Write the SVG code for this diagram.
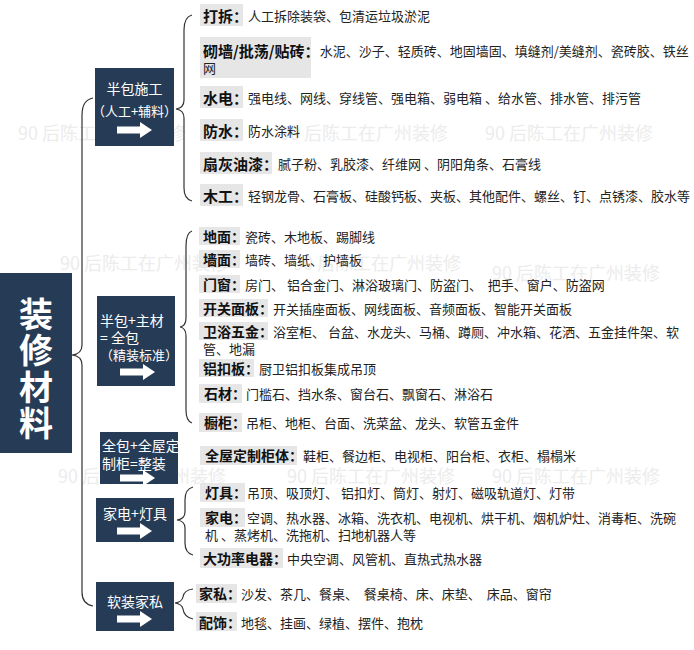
<svg xmlns="http://www.w3.org/2000/svg" width="694" height="650" viewBox="0 0 694 650">
<style>
text{font-family:"Noto Sans CJK SC","Noto Sans",sans-serif;dominant-baseline:central;white-space:pre}
.wm{font-size:18px;fill:#ececec}
.box{fill:#263b55}
.bt{font-size:14px;fill:#fff}
.bs{font-size:13px;fill:#fff}
.main{font-size:34px;font-weight:bold;fill:#fff;text-anchor:middle}
.bg{fill:#e6e6e6}
.l1{font-size:15px;font-weight:bold;fill:#111}
.l2{font-size:14px;font-weight:bold;fill:#111}
.ct{font-size:13px;fill:#222;font-weight:normal}
.br{fill:none;stroke:#333;stroke-width:1.2}
.arw{fill:#fff}
</style>
<defs>
<path id="arrow" class="arw" d="M0,-3.5 H23 V-8 L35,0 L23,8 V3.5 H0 Z"/>
</defs>
<g id="watermarks">
<text class="wm" x="18" y="132">90 后陈工在广州装修</text>
<text class="wm" x="280" y="132">90 后陈工在广州装修</text>
<text class="wm" x="485" y="132">90 后陈工在广州装修</text>
<text class="wm" x="60" y="262">90 后陈工在广州装修</text>
<text class="wm" x="293" y="262">90 后陈工在广州装修</text>
<text class="wm" x="492" y="272">90 后陈工在广州装修</text>
<text class="wm" x="58" y="475">90 后陈工在广州装修</text>
<text class="wm" x="287" y="475">90 后陈工在广州装修</text>
<text class="wm" x="492" y="475">90 后陈工在广州装修</text>
</g>
<g id="connectors">
<path class="br" d="M93,98 Q82,100 82,115 L82,345 Q82,354 72,355 Q82,356 82,365 L82,592 Q82,604 93,606"/>
<path class="br" d="M192,15 Q184,17 184,30 L184,100 Q184,108 176,109 Q184,110 184,118 L184,188 Q184,199 192,201"/>
<path class="br" d="M192,231 Q186,233 186,246 L186,318 Q186,326 180,327 Q186,328 186,336 L186,410 Q186,421 192,423"/>
<path class="br" d="M193,487 Q185,489 185,500 L185,512 Q185,519 177,520 Q185,521 185,528 L185,543 Q185,553 193,555"/>
<path class="br" d="M193,589 Q184,590 183,597 Q182,602 175,603 Q182,604 183,609 Q184,617 193,619"/>
</g>
<g id="root">
<rect class="box" x="0" y="273" width="72" height="180"/>
<text class="main" x="36" y="312">装</text>
<text class="main" x="36" y="348">修</text>
<text class="main" x="36" y="385">材</text>
<text class="main" x="36" y="421">料</text>
</g>
<g id="cat1">
<rect class="box" x="95" y="68" width="79" height="78"/>
<text class="bt" x="134.5" y="88" text-anchor="middle">半包施工</text>
<text class="bs" x="134.5" y="110" text-anchor="middle">（人工+辅料）</text>
<use href="#arrow" x="117" y="130"/>
</g>
<g id="cat2">
<rect class="box" x="97" y="296" width="78" height="90"/>
<text class="bt" x="100" y="320">半包+主材</text>
<text class="bt" x="100" y="337">= 全包</text>
<text class="bs" x="100" y="354">（精装标准）</text>
<use href="#arrow" x="120" y="372"/>
</g>
<g id="cat3">
<rect class="box" x="100" y="432" width="78" height="52"/>
<text class="bt" x="102" y="445">全包+全屋定</text>
<text class="bt" x="102" y="463">制柜=整装</text>
<use href="#arrow" x="120" y="478"/>
</g>
<g id="cat4">
<rect class="box" x="96" y="498" width="78" height="44"/>
<text class="bt" x="135" y="513" text-anchor="middle">家电+灯具</text>
<use href="#arrow" x="117" y="531"/>
</g>
<g id="cat5">
<rect class="box" x="96" y="582" width="78" height="49"/>
<text class="bt" x="135" y="601" text-anchor="middle">软装家私</text>
<use href="#arrow" x="117" y="619"/>
</g>
<g id="item-dachai">
<rect class="bg" x="200" y="4" width="43" height="22"/>
<text x="203" y="15"><tspan class="l1">打拆：</tspan><tspan class="ct">人工拆除装袋、包清运垃圾淤泥</tspan></text>
</g>
<g id="item-qiqiang">
<rect class="bg" x="200" y="37" width="111" height="41"/>
<text x="203" y="50"><tspan class="l1">砌墙/批荡/贴砖：</tspan><tspan class="ct">水泥、沙子、轻质砖、地固墙固、填缝剂/美缝剂、瓷砖胶、铁丝</tspan></text>
<text class="ct" x="203" y="67">网</text>
</g>
<g id="item-shuidian">
<rect class="bg" x="200" y="86" width="43" height="22"/>
<text x="203" y="97"><tspan class="l1">水电：</tspan><tspan class="ct">强电线、网线、穿线管、强电箱、弱电箱 、给水管、排水管、排污管</tspan></text>
</g>
<g id="item-fangshui">
<rect class="bg" x="200" y="119" width="43" height="22"/>
<text x="203" y="130"><tspan class="l1">防水：</tspan><tspan class="ct">防水涂料</tspan></text>
</g>
<g id="item-shanhui">
<rect class="bg" x="200" y="152" width="72" height="22"/>
<text x="203" y="163"><tspan class="l1">扇灰油漆：</tspan><tspan class="ct">腻子粉、乳胶漆、纤维网 、阴阳角条、石膏线</tspan></text>
</g>
<g id="item-mugong">
<rect class="bg" x="200" y="184" width="43" height="22"/>
<text x="203" y="195"><tspan class="l1">木工：</tspan><tspan class="ct">轻钢龙骨、石膏板、硅酸钙板、夹板、其他配件、螺丝、钉、点锈漆、胶水等</tspan></text>
</g>
<g id="item-dimian">
<rect class="bg" x="199" y="227" width="41" height="18"/>
<text x="203" y="236"><tspan class="l2">地面：</tspan><tspan class="ct">瓷砖、木地板、踢脚线</tspan></text>
</g>
<g id="item-qiangmian">
<rect class="bg" x="199" y="250" width="41" height="18"/>
<text x="203" y="259"><tspan class="l2">墙面：</tspan><tspan class="ct">墙砖、墙纸、护墙板</tspan></text>
</g>
<g id="item-menchuang">
<rect class="bg" x="199" y="275" width="41" height="18"/>
<text x="203" y="284"><tspan class="l2">门窗：</tspan><tspan class="ct">房门、 铝合金门、淋浴玻璃门、防盗门、  把手、窗户、防盗网</tspan></text>
</g>
<g id="item-kaiguan">
<rect class="bg" x="199" y="299" width="69" height="18"/>
<text x="203" y="308"><tspan class="l2">开关面板：</tspan><tspan class="ct">开关插座面板、网线面板、音频面板、智能开关面板</tspan></text>
</g>
<g id="item-weiyu">
<rect class="bg" x="199" y="322" width="69" height="18"/>
<text x="203" y="331"><tspan class="l2">卫浴五金：</tspan><tspan class="ct">浴室柜、 台盆、水龙头、马桶、蹲厕、冲水箱、花洒、五金挂件架、软</tspan></text>
<text class="ct" x="203" y="348">管、地漏</text>
</g>
<g id="item-lvkouban">
<rect class="bg" x="199" y="359" width="55" height="18"/>
<text x="203" y="368"><tspan class="l2">铝扣板：</tspan><tspan class="ct">厨卫铝扣板集成吊顶</tspan></text>
</g>
<g id="item-shicai">
<rect class="bg" x="199" y="384" width="43" height="19"/>
<text x="204" y="393"><tspan class="l2">石材：</tspan><tspan class="ct">门槛石、挡水条、窗台石、飘窗石、淋浴石</tspan></text>
</g>
<g id="item-chugui">
<rect class="bg" x="199" y="413" width="43" height="19"/>
<text x="204" y="422"><tspan class="l2">橱柜：</tspan><tspan class="ct">吊柜、地柜、台面、洗菜盆、龙头、软管五金件</tspan></text>
</g>
<g id="item-dingzhi">
<rect class="bg" x="200" y="446" width="97" height="19"/>
<text x="205" y="455"><tspan class="l2">全屋定制柜体：</tspan><tspan class="ct">鞋柜、餐边柜、电视柜、阳台柜、衣柜、榻榻米</tspan></text>
</g>
<g id="item-dengju">
<rect class="bg" x="200" y="483" width="45" height="19"/>
<text x="205" y="492"><tspan class="l2">灯具：</tspan><tspan class="ct">吊顶、吸顶灯、 铝扣灯、筒灯、射灯、磁吸轨道灯、灯带</tspan></text>
</g>
<g id="item-jiadian">
<rect class="bg" x="200" y="508" width="45" height="19"/>
<text x="205" y="517"><tspan class="l2">家电：</tspan><tspan class="ct">空调、热水器、冰箱、洗衣机、电视机、烘干机、烟机炉灶、消毒柜、洗碗</tspan></text>
<text class="ct" x="205" y="534">机 、蒸烤机、洗拖机、扫地机器人等</text>
</g>
<g id="item-dagonglv">
<rect class="bg" x="200" y="548" width="83" height="20"/>
<text x="203" y="558"><tspan class="l2">大功率电器：</tspan><tspan class="ct">中央空调、风管机、直热式热水器</tspan></text>
</g>
<g id="item-jiasi">
<rect class="bg" x="196" y="584" width="41" height="19"/>
<text x="199" y="593"><tspan class="l2">家私：</tspan><tspan class="ct">沙发、茶几、餐桌、  餐桌椅、床、床垫、  床品、窗帘</tspan></text>
</g>
<g id="item-peishi">
<rect class="bg" x="196" y="612" width="41" height="19"/>
<text x="199" y="622"><tspan class="l2">配饰：</tspan><tspan class="ct">地毯、挂画、绿植、摆件、抱枕</tspan></text>
</g>
</svg>
